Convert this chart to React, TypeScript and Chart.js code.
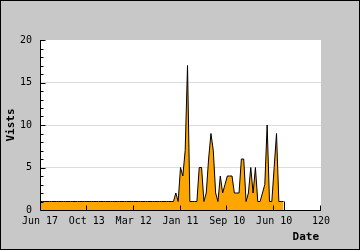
import React, { useEffect, useRef } from "react";
import { Chart, registerables } from "chart.js";

Chart.register(...registerables);

const visits: number[] = [
  1, 1, 1, 1, 1, 1, 1, 1, 1, 1,
  1, 1, 1, 1, 1, 1, 1, 1, 1, 1,
  1, 1, 1, 1, 1, 1, 1, 1, 1, 1,
  1, 1, 1, 1, 1, 1, 1, 1, 1, 1,
  1, 1, 1, 1, 1, 1, 1, 1, 1, 1,
  1, 1, 1, 1, 1, 1, 1, 1, 2, 1,
  5, 4, 7, 17, 1, 1, 1, 1, 5, 5,
  1, 2, 6, 9, 7, 2, 1, 4, 2, 3,
  4, 4, 4, 2, 2, 2, 6, 6, 1, 2,
  5, 2, 5, 1, 1, 2, 3, 10, 1, 1,
  5, 9, 1, 1, 1,
];

const xTickLabels: string[] = ["Jun 17", "Oct 13", "Mar 12", "Jan 11", "Sep 10", "Jun 10", "120"];
const yTickValues: number[] = [0, 5, 10, 15, 20];

const FONT = "DejaVu Sans Mono";

const decoPlugin = {
  id: "deco",
  beforeDraw(chart: any) {
    const { ctx, width, height, chartArea } = chart;
    ctx.save();
    ctx.fillStyle = "#c8c8c8";
    ctx.fillRect(0, 0, width, height);
    ctx.strokeStyle = "#000";
    ctx.lineWidth = 1;
    ctx.strokeRect(0.5, 0.5, width - 1, height - 1);
    ctx.fillStyle = "#ffffff";
    ctx.fillRect(chartArea.left, chartArea.top, chartArea.right - chartArea.left, chartArea.bottom - chartArea.top);
    ctx.restore();
  },
  afterDatasetsDraw(chart: any) {
    const { ctx } = chart;
    const meta = chart.getDatasetMeta(0);
    const last = meta.data[meta.data.length - 1];
    const y0 = chart.scales.y.getPixelForValue(0);
    ctx.save();
    ctx.strokeStyle = "#000";
    ctx.lineWidth = 1;
    ctx.beginPath();
    ctx.moveTo(Math.round(last.x) + 0.5, last.y);
    ctx.lineTo(Math.round(last.x) + 0.5, y0);
    ctx.stroke();
    ctx.restore();
  },
  afterDraw(chart: any) {
    const { ctx, chartArea } = chart;
    const xs = chart.scales.x;
    const ys = chart.scales.y;
    ctx.save();
    ctx.strokeStyle = "#000";
    ctx.lineWidth = 1;
    ctx.beginPath();
    // axes
    const ax = Math.round(chartArea.left) + 0.5;
    const ay = Math.round(chartArea.bottom) + 0.5;
    ctx.moveTo(ax, chartArea.top);
    ctx.lineTo(ax, ay);
    ctx.lineTo(chartArea.right, ay);
    // y ticks (major and minor)
    for (let v = ys.min; v <= ys.max; v += 1) {
      const py = Math.round(ys.getPixelForValue(v)) + 0.5;
      const len = v % 5 === 0 ? 5 : 3;
      ctx.moveTo(ax, py);
      ctx.lineTo(ax + len, py);
    }
    // x ticks
    for (let i = 1; i < xTickLabels.length; i++) {
      const px = Math.round(xs.getPixelForValue(i * 20)) - 0.5;
      ctx.moveTo(px, ay);
      ctx.lineTo(px, ay - 5);
    }
    ctx.stroke();
    // titles
    ctx.fillStyle = "#000";
    ctx.font = `bold 11px "${FONT}"`;
    ctx.textAlign = "right";
    ctx.textBaseline = "alphabetic";
    ctx.fillText("Date", chartArea.right - 2, 240);
    ctx.translate(14, 125);
    ctx.rotate(-Math.PI / 2);
    ctx.textAlign = "center";
    ctx.fillText("Vists", 0, 0);
    ctx.restore();
  },
};

export default function App() {
  const ref = useRef<HTMLCanvasElement>(null);
  useEffect(() => {
    document.body.style.margin = "0";
    const canvas = ref.current!;
    const chart = new Chart(canvas, {
      type: "line",
      data: {
        datasets: [
          {
            data: visits.map((v, i) => ({ x: i, y: v })),
            borderColor: "#000",
            borderWidth: 1,
            backgroundColor: "#ffa500",
            fill: "origin",
            pointRadius: 0,
            tension: 0,
          },
        ],
      },
      options: {
        animation: false,
        responsive: false,
        devicePixelRatio: 1,
        layout: { padding: { left: 0, top: 40, right: 39, bottom: 0 } },
        plugins: { legend: { display: false }, tooltip: { enabled: false } },
        scales: {
          x: {
            type: "linear",
            min: 0,
            max: 120,
            afterFit(scale: any) {
              scale.height = 40;
            },
            afterBuildTicks(scale: any) {
              scale.ticks = xTickLabels.map((_, i) => ({ value: i * 20 }));
            },
            ticks: {
              autoSkip: false,
              maxRotation: 0,
              padding: 5,
              color: "#000",
              font: { family: FONT, size: 10 },
              callback: (value: any) => xTickLabels[Math.round(Number(value) / 20)] ?? "",
            },
            grid: { display: true, drawOnChartArea: false, drawTicks: false },
            border: { display: false },
          },
          y: {
            type: "linear",
            min: 0,
            max: 20,
            afterFit(scale: any) {
              scale.width = 40;
            },
            afterBuildTicks(scale: any) {
              scale.ticks = yTickValues.map((v) => ({ value: v }));
            },
            ticks: {
              padding: 8,
              color: "#000",
              font: { family: FONT, size: 10 },
            },
            grid: {
              drawTicks: false,
              color: (c: any) => (c.tick && c.tick.value > 0 && c.tick.value < 20 ? "#dddddd" : "rgba(0,0,0,0)"),
              lineWidth: 1,
            },
            border: { display: false },
          },
        },
      },
      plugins: [decoPlugin],
    });
    return () => chart.destroy();
  }, []);
  return <canvas ref={ref} width={360} height={250} style={{ display: "block" }} />;
}
